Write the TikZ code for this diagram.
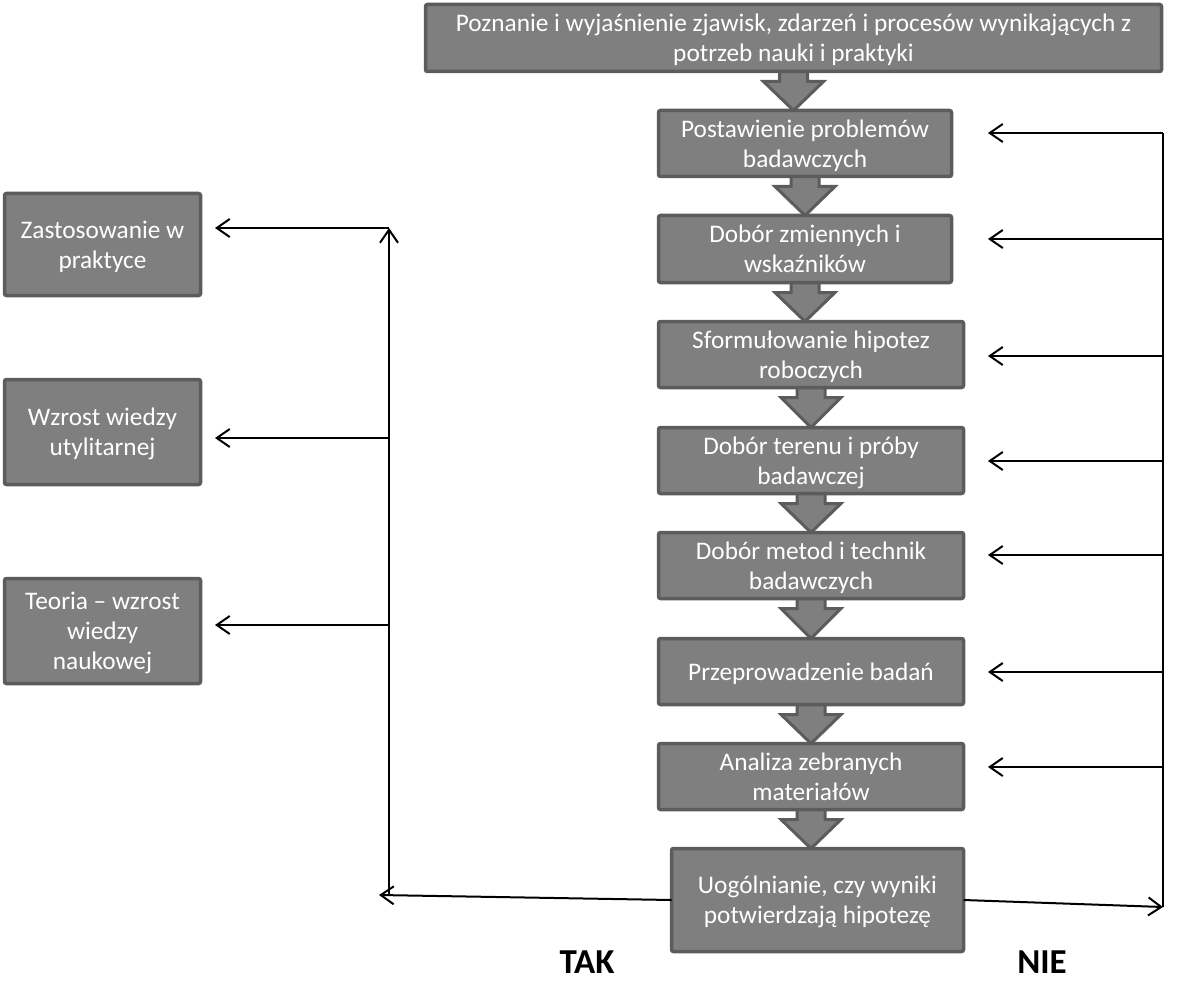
\documentclass[tikz,border=0pt]{standalone}
\usepackage{fontspec}
\setmainfont{Carlito}
\usetikzlibrary{arrows.meta,calc}
\pgfdeclarelayer{background}
\pgfsetlayers{background,main}
\definecolor{boxfill}{HTML}{7F7F7F}
\definecolor{boxline}{HTML}{5C5C5C}
\tikzset{
  stepbox/.style={draw=boxline, fill=boxfill, line width=3.5pt, rounded corners=2pt,
    outer sep=0pt, inner sep=2pt, align=center, text=white,
    font=\fontsize{25.3}{30}\selectfont, text depth=-5pt},
  blk/.style={draw=boxline, fill=boxfill, line width=3pt, line join=miter},
  arr/.style={draw=black, line width=2pt, -{Straight Barb[length=13pt,width=18pt,line width=2pt]}},
  conn/.style={draw=black, line width=2pt},
  lbl/.style={font=\fontsize{35}{40}\selectfont\bfseries, text=black}
}
\newcommand{\blockarr}[2]{%
  \begin{pgfonlayer}{background}
  \draw[blk] let \p1=(#1.south), \p2=(#2.north) in
    (\x1-14pt,\y1+4pt) -- (\x1-14pt,\y1-10pt) -- (\x1-30pt,\y1-10pt) -- (\x1,\y2)
    -- (\x1+30pt,\y1-10pt) -- (\x1+14pt,\y1-10pt) -- (\x1+14pt,\y1+4pt);
  \end{pgfonlayer}}
\begin{document}
\begin{tikzpicture}[x=1pt,y=-1pt]
\useasboundingbox (0,0) rectangle (1177,992);
% main column
\node[stepbox, minimum width=736, minimum height=67] (top) at (793.5,38)
  {Poznanie i wyjaśnienie zjawisk, zdarzeń i procesów wynikających z\\potrzeb nauki i praktyki};
\node[stepbox, minimum width=293, minimum height=66] (b1) at (805,143.5) {Postawienie problemów\\badawczych};
\node[stepbox, minimum width=293, minimum height=67] (b2) at (805,249) {Dobór zmiennych i\\wskaźników};
\node[stepbox, minimum width=305, minimum height=66] (b3) at (811,354.5) {Sformułowanie hipotez\\roboczych};
\node[stepbox, minimum width=305, minimum height=66] (b4) at (811,460.5) {Dobór terenu i próby\\badawczej};
\node[stepbox, minimum width=305, minimum height=66] (b5) at (811,565.5) {Dobór metod i technik\\badawczych};
\node[stepbox, minimum width=305, minimum height=66] (b6) at (811,671.5) {Przeprowadzenie badań};
\node[stepbox, minimum width=305, minimum height=66] (b7) at (811,776.5) {Analiza zebranych\\materiałów};
\node[stepbox, minimum width=292, minimum height=103] (b8) at (817.5,900) {Uogólnianie, czy wyniki\\potwierdzają hipotezę};
% left column
\node[stepbox, minimum width=196, minimum height=102] (l1) at (102.5,244.5) {Zastosowanie w\\praktyce};
\node[stepbox, minimum width=196, minimum height=105] (l2) at (102.5,432) {Wzrost wiedzy\\utylitarnej};
\node[stepbox, minimum width=196, minimum height=105] (l3) at (102.5,631) {Teoria – wzrost\\wiedzy\\naukowej};
% block arrows
\blockarr{top}{b1}
\blockarr{b1}{b2}
\blockarr{b2}{b3}
\blockarr{b3}{b4}
\blockarr{b4}{b5}
\blockarr{b5}{b6}
\blockarr{b6}{b7}
\blockarr{b7}{b8}
% right feedback (NIE)
\coordinate (nieTip) at (1163,907);
\coordinate (r1) at (1163,133); \coordinate (t1) at (988,133);
\coordinate (r2) at (1163,239); \coordinate (t2) at (988,239);
\coordinate (r3) at (1163,356); \coordinate (t3) at (988,356);
\coordinate (r4) at (1163,461); \coordinate (t4) at (988,461);
\coordinate (r5) at (1163,555); \coordinate (t5) at (988,555);
\coordinate (r6) at (1163,672); \coordinate (t6) at (988,672);
\coordinate (r7) at (1163,767); \coordinate (t7) at (988,767);
\draw[arr] (b8.east) -- (nieTip);
\draw[conn] (nieTip) -- (r1);
\foreach \i in {1,...,7} { \draw[arr] (r\i) -- (t\i); }
% left branch (TAK)
\coordinate (takTip) at (379,895);
\coordinate (lb) at (389,895);
\coordinate (lt) at (389,228);
\coordinate (s1) at (215,228);
\coordinate (m2) at (389,438); \coordinate (s2) at (215,438);
\coordinate (m3) at (389,625); \coordinate (s3) at (215,625);
\draw[arr] (b8.west) -- (takTip);
\draw[arr] (lb) -- (lt);
\draw[arr] (lt) -- (s1);
\draw[arr] (m2) -- (s2);
\draw[arr] (m3) -- (s3);
% labels
\node[lbl] (tak) at (587,962) {TAK};
\node[lbl] (nie) at (1042,962) {NIE};
\end{tikzpicture}
\end{document}
